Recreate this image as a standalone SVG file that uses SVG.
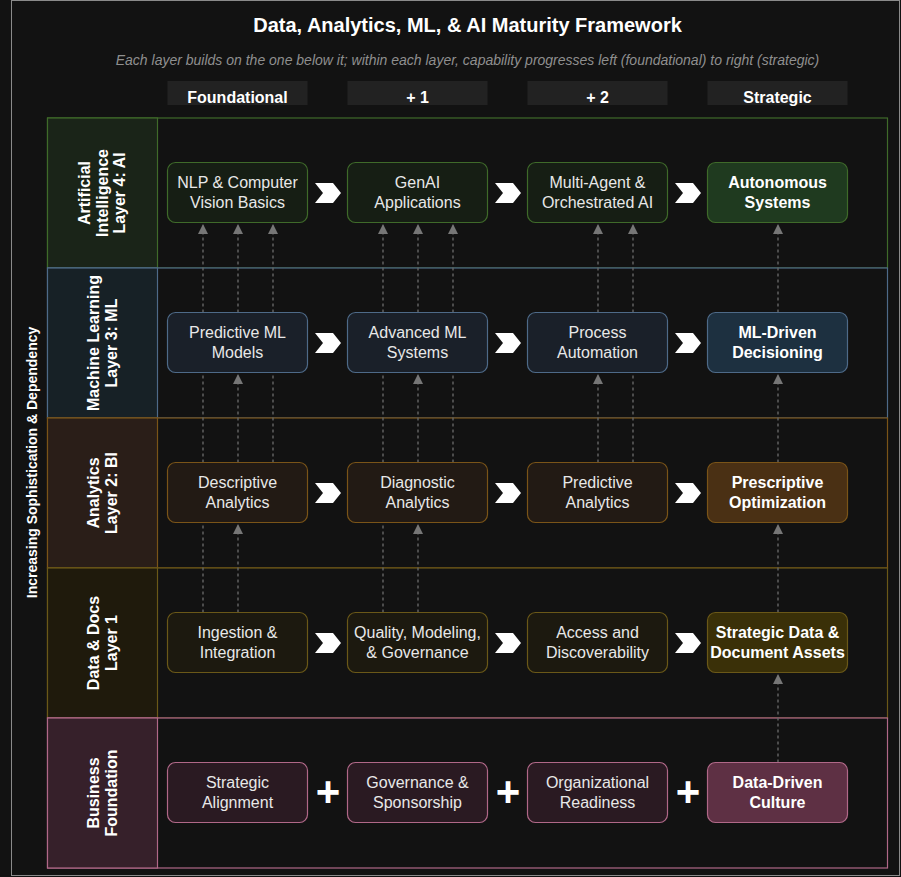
<svg xmlns="http://www.w3.org/2000/svg" width="901" height="877" viewBox="0 0 901 877">
<defs>
<style>
text{font-family:"Liberation Sans",Arial,sans-serif}
.title{font-size:20px;font-weight:bold;fill:#ffffff;text-anchor:middle}
.sub{font-size:14px;font-style:italic;fill:#8f8f8f;text-anchor:middle}
.hdr{font-size:16px;font-weight:bold;fill:#ffffff;text-anchor:middle}
.hbox{fill:#222222}
.lbl{font-size:16px;font-weight:bold;fill:#ffffff;text-anchor:middle}
.axis{font-size:14px;font-weight:bold;fill:#ffffff;text-anchor:middle}
.nt{font-size:16px;fill:#e8e8e8;text-anchor:middle}
.ns{font-size:16px;font-weight:bold;fill:#ffffff;text-anchor:middle}
.band{fill:#121212;stroke-width:1.2}
.conn line{stroke:#666666;stroke-width:1.4;stroke-dasharray:3 3;fill:none}
.chev{fill:#ffffff}
.plus{font-size:42px;font-weight:bold;fill:#ffffff;text-anchor:middle}
.ai .cell{fill:#1a2418;stroke:#3f6a2a}
.ai .band{stroke:#3f6a2a}
.ai .n{fill:#161e14;stroke:#3f6a2a;stroke-width:1.2}
.ai .s{fill:#1f3a1f;stroke:#3f6a2a;stroke-width:1.2}
.ml .cell{fill:#172126;stroke:#4e6a88}
.ml .band{stroke:#4e6a88}
.ml .n{fill:#1a2029;stroke:#4e6a88;stroke-width:1.2}
.ml .s{fill:#1d3040;stroke:#4e6a88;stroke-width:1.2}
.bi .cell{fill:#2a1e18;stroke:#7a5418}
.bi .band{stroke:#7a5418}
.bi .n{fill:#221a14;stroke:#7a5418;stroke-width:1.2}
.bi .s{fill:#4a3014;stroke:#7a5418;stroke-width:1.2}
.dt .cell{fill:#1f1a0c;stroke:#6a5818}
.dt .band{stroke:#6a5818}
.dt .n{fill:#1c190f;stroke:#6a5818;stroke-width:1.2}
.dt .s{fill:#3a3008;stroke:#6a5818;stroke-width:1.2}
.bf .cell{fill:#36202a;stroke:#b06888}
.bf .band{stroke:#b06888}
.bf .n{fill:#2a1a22;stroke:#b06888;stroke-width:1.2}
.bf .s{fill:#5e3044;stroke:#b06888;stroke-width:1.2}
</style>
<marker id="ah" viewBox="0 0 10 10" refX="10" refY="5" markerWidth="10" markerHeight="10" markerUnits="userSpaceOnUse" orient="auto">
<path d="M0,0 L10,5 L0,10 z" fill="#777777"/>
</marker>
<polygon id="chev" points="-13,-10 5,-10 13,0 5,10 -13,10 -5,0"/>
</defs>

<rect x="0" y="0" width="901" height="877" fill="#121212"/>
<rect x="11.5" y="0.5" width="888" height="875" fill="none" stroke="#8a8a8a" stroke-width="1"/>

<g id="title">
<text class="title" x="467.5" y="32">Data, Analytics, ML, &amp; AI Maturity Framework</text>
<text class="sub" x="467.5" y="65">Each layer builds on the one below it; within each layer, capability progresses left (foundational) to right (strategic)</text>
</g>

<g id="headers">
<rect class="hbox" x="167.5" y="81" width="140" height="24"/>
<rect class="hbox" x="347.5" y="81" width="140" height="24"/>
<rect class="hbox" x="527.5" y="81" width="140" height="24"/>
<rect class="hbox" x="707.5" y="81" width="140" height="24"/>
<text class="hdr" x="237.5" y="103">Foundational</text>
<text class="hdr" x="417.5" y="103">+ 1</text>
<text class="hdr" x="597.5" y="103">+ 2</text>
<text class="hdr" x="777.5" y="103">Strategic</text>
</g>

<g id="axis">
<text class="axis" transform="translate(0,462.5) rotate(-90)" x="0" y="36.5">Increasing Sophistication &amp; Dependency</text>
</g>

<g id="bands">
<g id="band-ai" class="ai">
<rect class="band" x="47.5" y="118" width="840" height="150"/>
<rect class="cell" x="47.5" y="118" width="110" height="150" stroke-width="1.2"/>
<text class="lbl" transform="translate(0,193) rotate(-90)"><tspan x="0" y="90">Artificial</tspan><tspan x="0" y="107.5">Intelligence</tspan><tspan x="0" y="125">Layer 4: AI</tspan></text>
</g>
<g id="band-ml" class="ml">
<rect class="band" x="47.5" y="268" width="840" height="150"/>
<rect class="cell" x="47.5" y="268" width="110" height="150" stroke-width="1.2"/>
<text class="lbl" transform="translate(0,343) rotate(-90)"><tspan x="0" y="98.5">Machine Learning</tspan><tspan x="0" y="116.5">Layer 3: ML</tspan></text>
</g>
<g id="band-bi" class="bi">
<rect class="band" x="47.5" y="418" width="840" height="150"/>
<rect class="cell" x="47.5" y="418" width="110" height="150" stroke-width="1.2"/>
<text class="lbl" transform="translate(0,493) rotate(-90)"><tspan x="0" y="98.5">Analytics</tspan><tspan x="0" y="116.5">Layer 2: BI</tspan></text>
</g>
<g id="band-dt" class="dt">
<rect class="band" x="47.5" y="568" width="840" height="150"/>
<rect class="cell" x="47.5" y="568" width="110" height="150" stroke-width="1.2"/>
<text class="lbl" transform="translate(0,643) rotate(-90)"><tspan x="0" y="98.5">Data &amp; Docs</tspan><tspan x="0" y="116.5">Layer 1</tspan></text>
</g>
<g id="band-bf" class="bf">
<rect class="band" x="47.5" y="718" width="840" height="150"/>
<rect class="cell" x="47.5" y="718" width="110" height="150" stroke-width="1.2"/>
<text class="lbl" transform="translate(0,793) rotate(-90)"><tspan x="0" y="98.5">Business</tspan><tspan x="0" y="116.5">Foundation</tspan></text>
</g>
</g>

<g id="connectors" class="conn">
<line x1="203" y1="612.5" x2="203" y2="224" marker-end="url(#ah)"/>
<line x1="238" y1="612.5" x2="238" y2="524" marker-end="url(#ah)"/>
<line x1="238" y1="462.5" x2="238" y2="374" marker-end="url(#ah)"/>
<line x1="273" y1="462.5" x2="273" y2="224" marker-end="url(#ah)"/>
<line x1="238" y1="312.5" x2="238" y2="224" marker-end="url(#ah)"/>
<line x1="383" y1="612.5" x2="383" y2="224" marker-end="url(#ah)"/>
<line x1="418" y1="612.5" x2="418" y2="524" marker-end="url(#ah)"/>
<line x1="418" y1="462.5" x2="418" y2="374" marker-end="url(#ah)"/>
<line x1="453" y1="462.5" x2="453" y2="224" marker-end="url(#ah)"/>
<line x1="418" y1="312.5" x2="418" y2="224" marker-end="url(#ah)"/>
<line x1="598" y1="462.5" x2="598" y2="374" marker-end="url(#ah)"/>
<line x1="633" y1="462.5" x2="633" y2="224" marker-end="url(#ah)"/>
<line x1="598" y1="312.5" x2="598" y2="224" marker-end="url(#ah)"/>
<line x1="778" y1="762.5" x2="778" y2="674" marker-end="url(#ah)"/>
<line x1="778" y1="612.5" x2="778" y2="524" marker-end="url(#ah)"/>
<line x1="778" y1="462.5" x2="778" y2="374" marker-end="url(#ah)"/>
<line x1="778" y1="312.5" x2="778" y2="224" marker-end="url(#ah)"/>
</g>

<g id="chevrons" class="chev">
<use href="#chev" x="328" y="193"/><use href="#chev" x="508" y="193"/><use href="#chev" x="688" y="193"/>
<use href="#chev" x="328" y="343"/><use href="#chev" x="508" y="343"/><use href="#chev" x="688" y="343"/>
<use href="#chev" x="328" y="493"/><use href="#chev" x="508" y="493"/><use href="#chev" x="688" y="493"/>
<use href="#chev" x="328" y="643"/><use href="#chev" x="508" y="643"/><use href="#chev" x="688" y="643"/>
</g>
<g id="plus-signs">
<text class="plus" x="328" y="806">+</text>
<text class="plus" x="508" y="806">+</text>
<text class="plus" x="688" y="806">+</text>
</g>

<g class="ai">
<g id="n-nlp"><rect class="n" x="167.5" y="162.5" width="140" height="60" rx="8"/><text class="nt" x="237.5" y="188">NLP &amp; Computer</text><text class="nt" x="237.5" y="208">Vision Basics</text></g>
<g id="n-genai"><rect class="n" x="347.5" y="162.5" width="140" height="60" rx="8"/><text class="nt" x="417.5" y="188">GenAI</text><text class="nt" x="417.5" y="208">Applications</text></g>
<g id="n-multiagent"><rect class="n" x="527.5" y="162.5" width="140" height="60" rx="8"/><text class="nt" x="597.5" y="188">Multi-Agent &amp;</text><text class="nt" x="597.5" y="208">Orchestrated AI</text></g>
<g id="n-autonomous"><rect class="s" x="707.5" y="162.5" width="140" height="60" rx="8"/><text class="ns" x="777.5" y="188">Autonomous</text><text class="ns" x="777.5" y="208">Systems</text></g>
</g>
<g class="ml">
<g id="n-predml"><rect class="n" x="167.5" y="312.5" width="140" height="60" rx="8"/><text class="nt" x="237.5" y="338">Predictive ML</text><text class="nt" x="237.5" y="358">Models</text></g>
<g id="n-advml"><rect class="n" x="347.5" y="312.5" width="140" height="60" rx="8"/><text class="nt" x="417.5" y="338">Advanced ML</text><text class="nt" x="417.5" y="358">Systems</text></g>
<g id="n-process"><rect class="n" x="527.5" y="312.5" width="140" height="60" rx="8"/><text class="nt" x="597.5" y="338">Process</text><text class="nt" x="597.5" y="358">Automation</text></g>
<g id="n-mldriven"><rect class="s" x="707.5" y="312.5" width="140" height="60" rx="8"/><text class="ns" x="777.5" y="338">ML-Driven</text><text class="ns" x="777.5" y="358">Decisioning</text></g>
</g>
<g class="bi">
<g id="n-descriptive"><rect class="n" x="167.5" y="462.5" width="140" height="60" rx="8"/><text class="nt" x="237.5" y="488">Descriptive</text><text class="nt" x="237.5" y="508">Analytics</text></g>
<g id="n-diagnostic"><rect class="n" x="347.5" y="462.5" width="140" height="60" rx="8"/><text class="nt" x="417.5" y="488">Diagnostic</text><text class="nt" x="417.5" y="508">Analytics</text></g>
<g id="n-predictive"><rect class="n" x="527.5" y="462.5" width="140" height="60" rx="8"/><text class="nt" x="597.5" y="488">Predictive</text><text class="nt" x="597.5" y="508">Analytics</text></g>
<g id="n-prescriptive"><rect class="s" x="707.5" y="462.5" width="140" height="60" rx="8"/><text class="ns" x="777.5" y="488">Prescriptive</text><text class="ns" x="777.5" y="508">Optimization</text></g>
</g>
<g class="dt">
<g id="n-ingestion"><rect class="n" x="167.5" y="612.5" width="140" height="60" rx="8"/><text class="nt" x="237.5" y="638">Ingestion &amp;</text><text class="nt" x="237.5" y="658">Integration</text></g>
<g id="n-quality"><rect class="n" x="347.5" y="612.5" width="140" height="60" rx="8"/><text class="nt" x="417.5" y="638">Quality, Modeling,</text><text class="nt" x="417.5" y="658">&amp; Governance</text></g>
<g id="n-access"><rect class="n" x="527.5" y="612.5" width="140" height="60" rx="8"/><text class="nt" x="597.5" y="638">Access and</text><text class="nt" x="597.5" y="658">Discoverability</text></g>
<g id="n-strategicdata"><rect class="s" x="707.5" y="612.5" width="140" height="60" rx="8"/><text class="ns" x="777.5" y="638">Strategic Data &amp;</text><text class="ns" x="777.5" y="658">Document Assets</text></g>
</g>
<g class="bf">
<g id="n-alignment"><rect class="n" x="167.5" y="762.5" width="140" height="60" rx="8"/><text class="nt" x="237.5" y="788">Strategic</text><text class="nt" x="237.5" y="808">Alignment</text></g>
<g id="n-governance"><rect class="n" x="347.5" y="762.5" width="140" height="60" rx="8"/><text class="nt" x="417.5" y="788">Governance &amp;</text><text class="nt" x="417.5" y="808">Sponsorship</text></g>
<g id="n-readiness"><rect class="n" x="527.5" y="762.5" width="140" height="60" rx="8"/><text class="nt" x="597.5" y="788">Organizational</text><text class="nt" x="597.5" y="808">Readiness</text></g>
<g id="n-culture"><rect class="s" x="707.5" y="762.5" width="140" height="60" rx="8"/><text class="ns" x="777.5" y="788">Data-Driven</text><text class="ns" x="777.5" y="808">Culture</text></g>
</g>
</svg>
